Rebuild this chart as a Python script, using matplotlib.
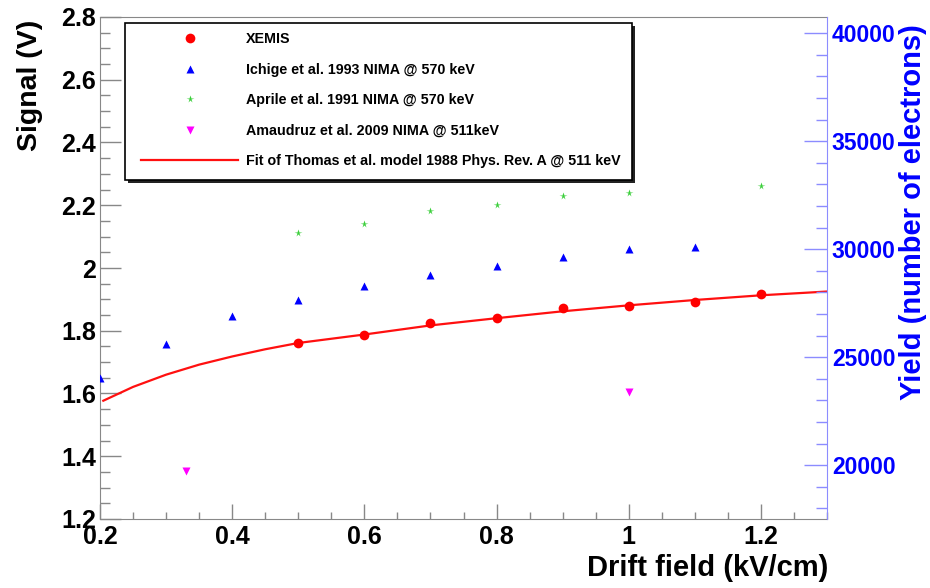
import numpy as np
import matplotlib
matplotlib.use('Agg')
import matplotlib.pyplot as plt
from matplotlib.patches import Rectangle
from matplotlib.ticker import MultipleLocator, FormatStrFormatter

plt.rcParams['font.family'] = ['Liberation Sans', 'DejaVu Sans']
plt.rcParams['font.weight'] = 'bold'

# data (drift field kV/cm, signal V)
xemis_x = [0.5, 0.6, 0.7, 0.8, 0.9, 1.0, 1.1, 1.2]
xemis_v = [1.760, 1.786, 1.825, 1.840, 1.871, 1.879, 1.893, 1.916]

ichige_x = [0.2, 0.3, 0.4, 0.5, 0.6, 0.7, 0.8, 0.9, 1.0, 1.1]
ichige_v = [1.648, 1.757, 1.848, 1.899, 1.943, 1.978, 2.007, 2.035, 2.060, 2.068]

aprile_x = [0.5, 0.6, 0.7, 0.8, 0.9, 1.0, 1.2]
aprile_v = [2.111, 2.141, 2.181, 2.201, 2.229, 2.239, 2.260]

amaudruz_x = [0.33, 1.0]
amaudruz_v = [1.354, 1.604]

fit_x = [0.205, 0.25, 0.3, 0.35, 0.4, 0.45, 0.5, 0.6, 0.7, 0.8, 0.9, 1.0, 1.1, 1.2, 1.3]
fit_v = [1.577, 1.621, 1.660, 1.692, 1.718, 1.741, 1.761, 1.788, 1.817, 1.840, 1.862,
         1.881, 1.898, 1.913, 1.925]

labels = ['XEMIS',
          'Ichige et al. 1993 NIMA @ 570 keV',
          'Aprile et al. 1991 NIMA @ 570 keV',
          'Amaudruz et al. 2009 NIMA @ 511keV',
          'Fit of Thomas et al. model 1988 Phys. Rev. A @ 511 keV']

W, H = 930, 588
fig = plt.figure(figsize=(9.3, 5.88), dpi=100)
ax = fig.add_axes([100/W, 1 - 519/H, 727/W, 502/H])
grey = '#888888'
lav = '#8c8cff'

l5, = ax.plot(fit_x, fit_v, color='#ff1010', lw=1.6, zorder=2)
l1, = ax.plot(xemis_x, xemis_v, 'o', color='#ff0000', ms=7, mec='none', zorder=3)
l2, = ax.plot(ichige_x, ichige_v, '^', color='#0000ff', ms=5.5, mec='none', zorder=3)
l3, = ax.plot(aprile_x, aprile_v, '*', color='#3ccf3c', ms=5.5, mec='none', zorder=3)
l4, = ax.plot(amaudruz_x, amaudruz_v, 'v', color='#ff00ff', ms=6, mec='none', zorder=3)

ax.set_xlim(0.2, 1.3)
ax.set_ylim(1.2, 2.8)
ax.set_xticks([0.2, 0.4, 0.6, 0.8, 1.0, 1.2])
ax.xaxis.set_minor_locator(MultipleLocator(0.05))
ax.yaxis.set_major_locator(MultipleLocator(0.2))
ax.yaxis.set_minor_locator(MultipleLocator(0.05))
ax.xaxis.set_major_formatter(FormatStrFormatter('%g'))
ax.yaxis.set_major_formatter(lambda v, p: '%g' % round(v, 2))
ax.tick_params(axis='x', which='major', direction='in', length=11, width=1, color=grey,
               labelsize=18, pad=4)
ax.tick_params(axis='x', which='minor', direction='in', length=5, width=1, color=grey)
ax.tick_params(axis='y', which='major', direction='in', length=15, width=1, color=grey,
               labelsize=18, pad=3)
ax.tick_params(axis='y', which='minor', direction='in', length=7.5, width=1, color=grey)
for s in ['left', 'bottom', 'top']:
    ax.spines[s].set_color(grey)
ax.spines['right'].set_visible(False)

ax2 = ax.twinx()
ax2.set_ylim(17510, 40750)
ax2.yaxis.set_major_locator(MultipleLocator(5000))
ax2.yaxis.set_minor_locator(MultipleLocator(1000))
ax2.tick_params(axis='y', which='major', direction='in', length=16.5, width=1, color=lav,
                labelsize=16.5, labelcolor='#0000ff', pad=3.5)
ax2.tick_params(axis='y', which='minor', direction='in', length=8, width=1, color=lav)
ax2.spines['right'].set_color(lav)
for s in ['left', 'bottom', 'top']:
    ax2.spines[s].set_visible(False)

fig.text(30/W, 1 - 20/H, 'Signal (V)', rotation=90, ha='center', va='top',
         fontsize=20.5, fontweight='bold')
fig.text(913/W, 1 - 24/H, 'Yield (number of electrons)', rotation=90, ha='center',
         va='top', fontsize=21, fontweight='bold', color='#0000ff')
fig.text(828/W, 1 - 568/H, 'Drift field (kV/cm)', ha='right', va='center',
         fontsize=21, fontweight='bold')

# legend box with a dark drop shadow
bx0, by0, bx1, by1 = 125, 23, 632, 180
shadow = Rectangle(((bx0 + 3)/W, 1 - (by1 + 3)/H), (bx1 - bx0)/W, (by1 - by0)/H,
                   transform=fig.transFigure, facecolor='#222222', edgecolor='none',
                   zorder=4, clip_on=False)
box = Rectangle((bx0/W, 1 - by1/H), (bx1 - bx0)/W, (by1 - by0)/H,
                transform=fig.transFigure, facecolor='white', edgecolor='black',
                lw=1.2, zorder=4.1, clip_on=False)
ax2.add_artist(shadow)
ax2.add_artist(box)

leg = ax2.legend([l1, l2, l3, l4, l5], labels, loc='upper left',
                 bbox_to_anchor=(132/W, 0.5, 500/W, 1 - 23/H - 0.5),
                 bbox_transform=fig.transFigure, mode='expand', borderaxespad=0,
                 fontsize=10.3, handlelength=6.75, handletextpad=0.58, labelspacing=1.15,
                 borderpad=0.65, frameon=False, numpoints=1)
leg.set_zorder(5)

fig.savefig('out.png', dpi=100)
